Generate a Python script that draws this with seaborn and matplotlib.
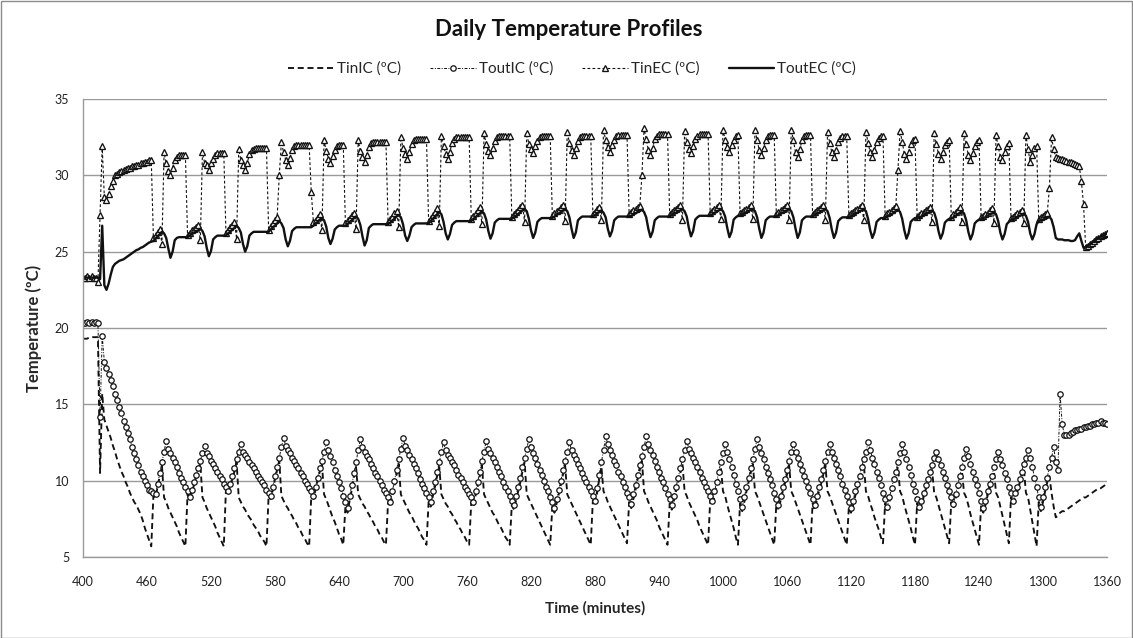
import numpy as np
import pandas as pd
import matplotlib
matplotlib.use("Agg")
import matplotlib.pyplot as plt
from matplotlib.patches import Rectangle
import seaborn as sns

# Sampling instants (minutes of the day, one reading every 2 minutes)
minutes = np.arange(400, 1361, 2)

# Inlet temperature, internal circuit (ºC)
tin_ic = [
    19.3, 19.3, 19.3, 19.4, 19.4, 19.4, 19.4, 19.4, 10.5, 15.7,   # 400
    14.0, 13.6, 13.2, 12.8, 12.3, 11.9, 11.4, 11.0, 10.6, 10.3,   # 420
    9.9, 9.6, 9.2, 8.9, 8.6, 8.4, 8.1, 7.8, 7.4, 6.9,             # 440
    6.5, 6.1, 5.7, 9.0, 8.9, 9.6, 10.3, 11.0, 8.9, 8.6,           # 460
    8.2, 7.9, 7.6, 7.3, 7.0, 6.6, 6.3, 6.0, 5.7, 9.1,             # 480
    8.7, 9.2, 9.7, 10.2, 10.6, 11.1, 8.9, 8.6, 8.2, 7.9,          # 500
    7.6, 7.3, 7.0, 6.6, 6.3, 6.0, 5.7, 9.4, 9.1, 9.6,             # 520
    10.1, 10.6, 11.2, 8.9, 8.6, 8.3, 8.1, 7.8, 7.6, 7.4,          # 540
    7.1, 6.9, 6.7, 6.4, 6.2, 6.0, 5.7, 9.0, 8.8, 9.4,             # 560
    10.1, 10.7, 11.3, 9.0, 8.7, 8.4, 8.2, 7.9, 7.7, 7.4,          # 580
    7.2, 6.9, 6.7, 6.4, 6.2, 5.9, 5.7, 9.0, 8.8, 9.4,             # 600
    10.0, 10.6, 11.1, 9.1, 8.8, 8.4, 8.0, 7.6, 7.3, 6.9,          # 620
    6.5, 6.2, 5.8, 8.3, 7.9, 8.7, 9.4, 10.2, 10.9, 9.1,           # 640
    8.8, 8.5, 8.3, 8.0, 7.8, 7.5, 7.3, 7.0, 6.8, 6.5,             # 660
    6.3, 6.0, 5.8, 8.6, 8.3, 9.0, 9.7, 10.4, 11.1, 9.1,           # 680
    8.8, 8.5, 8.2, 7.9, 7.7, 7.4, 7.1, 6.9, 6.6, 6.3,             # 700
    6.1, 5.8, 8.6, 8.3, 9.0, 9.6, 10.3, 10.9, 9.1, 8.8,           # 720
    8.5, 8.3, 8.0, 7.8, 7.5, 7.3, 7.0, 6.8, 6.5, 6.3,             # 740
    6.0, 5.8, 8.6, 8.3, 9.0, 9.6, 10.3, 11.0, 9.1, 8.8,           # 760
    8.5, 8.2, 7.9, 7.7, 7.4, 7.1, 6.9, 6.6, 6.3, 6.1,             # 780
    5.8, 8.4, 8.1, 8.7, 9.3, 9.9, 10.6, 11.2, 9.1, 8.8,           # 800
    8.5, 8.2, 7.9, 7.6, 7.3, 7.0, 6.7, 6.4, 6.1, 5.8,             # 820
    8.3, 7.9, 8.5, 9.1, 9.7, 10.4, 11.0, 9.1, 8.8, 8.5,           # 840
    8.2, 7.9, 7.6, 7.3, 7.0, 6.7, 6.4, 6.1, 5.8, 8.7,             # 860
    8.4, 9.2, 10.1, 10.9, 9.3, 9.0, 8.6, 8.3, 8.0, 7.7,           # 880
    7.4, 7.1, 6.8, 6.5, 6.2, 5.9, 8.6, 8.2, 8.8, 9.4,             # 900
    10.1, 10.7, 11.3, 9.3, 9.0, 8.6, 8.3, 8.0, 7.7, 7.4,          # 920
    7.0, 6.7, 6.4, 6.1, 5.8, 8.5, 8.1, 8.7, 9.3, 9.9,             # 940
    10.5, 11.1, 9.3, 9.0, 8.6, 8.3, 8.0, 7.7, 7.4, 7.0,           # 960
    6.7, 6.4, 6.1, 5.8, 8.7, 8.4, 9.0, 9.6, 10.3, 10.9,           # 980
    9.3, 9.0, 8.4, 7.9, 7.4, 6.9, 6.3, 5.8, 8.5, 8.0,             # 1000
    8.6, 9.3, 9.9, 10.5, 11.1, 9.3, 9.0, 8.6, 8.2, 7.8,           # 1020
    7.4, 7.0, 6.6, 6.2, 5.8, 8.5, 8.1, 8.7, 9.3, 9.8,             # 1040
    10.4, 11.0, 9.3, 9.0, 8.6, 8.2, 7.8, 7.4, 7.0, 6.6,           # 1060
    6.2, 5.8, 8.5, 8.1, 8.7, 9.3, 9.8, 10.4, 11.0, 9.3,           # 1080
    9.0, 8.6, 8.2, 7.8, 7.4, 7.0, 6.6, 6.2, 5.8, 8.3,             # 1100
    7.9, 8.4, 9.0, 9.5, 10.0, 10.6, 11.1, 9.3, 9.0, 8.5,          # 1120
    8.1, 7.6, 7.2, 6.8, 6.3, 5.9, 8.5, 8.0, 8.6, 9.2,             # 1140
    9.8, 10.3, 10.9, 9.3, 9.0, 8.4, 7.9, 7.4, 6.9, 6.3,           # 1160
    5.8, 8.5, 8.0, 8.4, 8.9, 9.4, 9.8, 10.3, 10.7, 9.2,           # 1180
    8.9, 8.4, 7.9, 7.4, 6.9, 6.4, 5.9, 8.6, 8.2, 8.8,             # 1200
    9.4, 10.0, 10.6, 9.2, 8.9, 8.4, 7.8, 7.3, 6.8, 6.3,           # 1220
    5.8, 8.4, 7.9, 8.4, 9.0, 9.5, 10.0, 10.6, 9.2, 8.9,           # 1240
    8.3, 7.7, 7.1, 6.5, 5.9, 8.9, 8.4, 8.9, 9.3, 9.8,             # 1260
    10.3, 10.8, 9.2, 8.9, 8.1, 7.3, 6.5, 5.7, 8.6, 8.0,           # 1280
    8.6, 9.3, 9.9, 10.3, 9.2, 8.3, 7.6, 7.7, 7.9, 8.0,            # 1300
    8.0, 8.1, 8.2, 8.3, 8.4, 8.5, 8.6, 8.7, 8.8, 8.9,             # 1320
    8.9, 9.0, 9.1, 9.2, 9.3, 9.4, 9.5, 9.5, 9.6, 9.7,             # 1340
    9.8,
]

# Outlet temperature, internal circuit (ºC)
tout_ic = [
    20.3, 20.3, 20.4, 20.3, 20.4, 20.3, 20.4, 20.3, 14.2, 19.5,   # 400
    17.8, 17.4, 17.0, 16.6, 16.2, 15.7, 15.3, 14.8, 14.4, 13.9,   # 420
    13.5, 13.1, 12.7, 12.2, 11.8, 11.4, 11.0, 10.6, 10.3, 10.0,   # 440
    9.7, 9.4, 9.3, 9.2, 9.1, 9.8, 10.5, 11.2, 11.9, 12.6,         # 460
    12.1, 11.8, 11.5, 11.2, 10.9, 10.5, 10.2, 9.9, 9.6, 9.3,      # 480
    8.9, 9.4, 9.9, 10.4, 10.8, 11.3, 11.8, 12.3, 11.8, 11.6,      # 500
    11.3, 11.1, 10.8, 10.6, 10.3, 10.1, 9.8, 9.6, 9.3, 9.8,       # 520
    10.3, 10.8, 11.4, 11.9, 12.4, 11.9, 11.7, 11.5, 11.2, 11.0,   # 540
    10.8, 10.6, 10.3, 10.1, 9.9, 9.7, 9.4, 9.2, 9.0, 9.6,         # 560
    10.3, 10.9, 11.5, 12.2, 12.8, 12.3, 12.0, 11.8, 11.5, 11.3,   # 580
    11.0, 10.8, 10.5, 10.3, 10.0, 9.8, 9.5, 9.3, 9.0, 9.6,        # 600
    10.2, 10.8, 11.3, 11.9, 12.5, 12.0, 11.6, 11.2, 10.7, 10.3,   # 620
    9.9, 9.5, 9.0, 8.6, 8.2, 9.0, 9.7, 10.5, 11.2, 12.0,          # 640
    12.7, 12.2, 11.9, 11.6, 11.4, 11.1, 10.8, 10.5, 10.3, 10.0,   # 660
    9.7, 9.4, 9.2, 8.9, 8.6, 9.3, 10.0, 10.7, 11.4, 12.1,         # 680
    12.8, 12.3, 12.0, 11.7, 11.4, 11.1, 10.8, 10.5, 10.1, 9.8,    # 700
    9.5, 9.2, 8.9, 8.6, 9.3, 9.9, 10.6, 11.2, 11.9, 12.5,         # 720
    12.0, 11.7, 11.5, 11.2, 11.0, 10.7, 10.4, 10.2, 9.9, 9.6,     # 740
    9.4, 9.1, 8.9, 8.6, 9.3, 9.9, 10.6, 11.3, 11.9, 12.6,         # 760
    12.1, 11.8, 11.5, 11.2, 10.9, 10.6, 10.3, 9.9, 9.6, 9.3,      # 780
    9.0, 8.7, 8.4, 9.0, 9.6, 10.2, 10.9, 11.5, 12.1, 12.7,        # 800
    12.2, 11.8, 11.5, 11.1, 10.7, 10.4, 10.0, 9.6, 9.3, 8.9,      # 820
    8.6, 8.2, 8.8, 9.4, 10.0, 10.7, 11.3, 11.9, 12.5, 12.0,       # 840
    11.7, 11.4, 11.1, 10.8, 10.5, 10.2, 9.9, 9.6, 9.3, 9.0,       # 860
    8.7, 9.5, 10.4, 11.2, 12.0, 12.9, 12.4, 12.0, 11.7, 11.3,     # 880
    11.0, 10.6, 10.3, 9.9, 9.6, 9.2, 8.9, 8.5, 9.1, 9.7,          # 900
    10.4, 11.0, 11.6, 12.2, 12.9, 12.4, 12.0, 11.7, 11.3, 10.9,   # 920
    10.6, 10.2, 9.9, 9.5, 9.1, 8.8, 8.4, 9.0, 9.6, 10.2,          # 940
    10.8, 11.4, 12.0, 12.6, 12.1, 11.8, 11.5, 11.2, 10.9, 10.6,   # 960
    10.2, 9.9, 9.6, 9.3, 9.0, 8.7, 9.3, 9.9, 10.6, 11.2,          # 980
    11.8, 12.4, 11.9, 11.4, 10.9, 10.4, 9.8, 9.3, 8.8, 8.3,       # 1000
    8.9, 9.6, 10.2, 10.8, 11.4, 12.1, 12.7, 12.2, 11.8, 11.4,     # 1020
    10.9, 10.5, 10.1, 9.7, 9.2, 8.8, 8.4, 9.0, 9.6, 10.1,         # 1040
    10.7, 11.3, 11.9, 12.4, 11.9, 11.5, 11.1, 10.7, 10.3, 10.0,   # 1060
    9.6, 9.2, 8.8, 8.4, 9.0, 9.6, 10.1, 10.7, 11.3, 11.9,         # 1080
    12.4, 11.9, 11.5, 11.1, 10.7, 10.3, 9.8, 9.4, 9.0, 8.6,       # 1100
    8.2, 8.7, 9.3, 9.8, 10.3, 10.9, 11.4, 11.9, 12.5, 12.0,       # 1120
    11.5, 11.1, 10.6, 10.2, 9.7, 9.2, 8.8, 8.3, 8.9, 9.5,         # 1140
    10.1, 10.6, 11.2, 11.8, 12.4, 11.9, 11.4, 10.9, 10.4, 9.8,    # 1160
    9.3, 8.8, 8.3, 8.7, 9.2, 9.7, 10.1, 10.6, 11.0, 11.5,         # 1180
    11.9, 11.4, 11.0, 10.6, 10.2, 9.7, 9.3, 8.9, 8.5, 9.1,        # 1200
    9.7, 10.3, 10.9, 11.5, 12.1, 11.6, 11.1, 10.6, 10.1, 9.7,     # 1220
    9.2, 8.7, 8.2, 8.7, 9.3, 9.8, 10.3, 10.9, 11.4, 11.9,         # 1240
    11.4, 11.0, 10.5, 10.1, 9.6, 9.2, 8.7, 9.2, 9.6, 10.1,        # 1260
    10.6, 11.1, 11.5, 12.0, 11.5, 10.9, 10.2, 9.6, 8.9, 8.3,      # 1280
    8.9, 9.6, 10.2, 10.9, 11.5, 12.2, 11.2, 10.7, 15.7, 13.7,     # 1300
    13.0, 13.0, 13.0, 13.1, 13.2, 13.3, 13.3, 13.4, 13.4, 13.5,   # 1320
    13.5, 13.6, 13.6, 13.7, 13.7, 13.8, 13.8, 13.9, 13.8, 13.8,   # 1340
    13.7,
]

# Inlet temperature, external circuit (ºC)
tin_ec = [
    23.3, 23.3, 23.4, 23.3, 23.4, 23.3, 23.3, 23.0, 27.4, 31.9,            # 400
    28.6, 28.4, 28.8, 29.3, 29.6, 30.0, 30.1, 30.2, 30.3, 30.35,           # 420
    30.4, 30.5, 30.5, 30.6, 30.6, 30.7, 30.7, 30.8, 30.8, 30.9,            # 440
    30.9, 31.0, 31.0, 25.9, 26.1, 26.3, 26.5, 25.5, 31.5, 30.8,            # 460
    30.3, 30.0, 30.5, 31.0, 31.2, 31.3, 31.3, 31.3, 31.3, 26.1,            # 480
    26.2, 26.4, 26.5, 26.6, 26.75, 25.75, 31.5, 30.8, 30.65, 30.35,        # 500
    30.8, 31.1, 31.35, 31.45, 31.45, 31.45, 31.45, 26.2, 26.4, 26.6,       # 520
    26.75, 26.95, 25.85, 31.7, 31.0, 30.65, 30.35, 30.8, 31.4, 31.65,      # 540
    31.75, 31.8, 31.8, 31.8, 31.8, 31.8, 31.8, 26.45, 26.65, 26.85,        # 560
    27.05, 27.25, 30.0, 32.2, 31.5, 31.0, 30.7, 31.15, 31.65, 31.9,        # 580
    32.0, 32.0, 32.0, 32.0, 32.0, 32.0, 32.0, 28.9, 26.95, 27.1,           # 600
    27.3, 27.45, 26.4, 32.3, 31.6, 31.1, 30.8, 31.25, 31.65, 31.9,         # 620
    32.0, 32.0, 32.0, 26.85, 27.05, 27.2, 27.4, 27.55, 26.5, 32.3,         # 640
    31.6, 31.2, 30.9, 31.35, 31.85, 32.1, 32.2, 32.2, 32.2, 32.2,          # 660
    32.2, 32.2, 32.2, 26.95, 27.15, 27.3, 27.5, 27.65, 26.6, 32.5,         # 680
    31.8, 31.4, 31.1, 31.55, 32.05, 32.3, 32.4, 32.4, 32.4, 32.4,          # 700
    32.4, 32.4, 27.0, 27.2, 27.4, 27.6, 27.85, 26.65, 32.6, 31.9,          # 720
    31.4, 31.1, 31.55, 32.15, 32.4, 32.5, 32.5, 32.5, 32.5, 32.5,          # 740
    32.5, 32.5, 27.15, 27.35, 27.5, 27.7, 27.9, 26.8, 32.75, 32.05,        # 760
    31.6, 31.3, 31.8, 32.25, 32.5, 32.6, 32.6, 32.6, 32.6, 32.6,           # 780
    32.6, 27.3, 27.45, 27.6, 27.75, 27.9, 28.05, 26.95, 32.75, 32.05,      # 800
    31.75, 31.45, 31.9, 32.25, 32.5, 32.6, 32.6, 32.6, 32.6, 32.6,         # 820
    27.35, 27.5, 27.65, 27.75, 27.9, 28.05, 27.0, 32.85, 32.15, 31.65,     # 840
    31.35, 31.8, 32.25, 32.5, 32.6, 32.6, 32.6, 32.6, 32.6, 27.45,         # 860
    27.6, 27.8, 27.95, 27.1, 33.0, 32.3, 31.85, 31.55, 32.0, 32.3,         # 880
    32.55, 32.65, 32.65, 32.65, 32.65, 32.65, 27.45, 27.6, 27.7, 27.8,     # 900
    27.9, 28.0, 30.0, 33.1, 32.4, 31.65, 31.35, 31.8, 32.35, 32.6,         # 920
    32.7, 32.7, 32.7, 32.7, 32.7, 27.45, 27.6, 27.7, 27.8, 27.9,           # 940
    28.05, 27.1, 32.9, 32.2, 31.75, 31.45, 31.9, 32.35, 32.6, 32.7,        # 960
    32.7, 32.7, 32.7, 32.7, 27.5, 27.65, 27.8, 27.9, 28.05, 27.15,         # 980
    33.0, 32.3, 31.85, 31.55, 32.0, 32.3, 32.55, 32.65, 27.5, 27.6,        # 1000
    27.7, 27.8, 27.9, 28.05, 27.15, 33.0, 32.3, 31.65, 31.35, 31.8,        # 1020
    32.3, 32.55, 32.65, 32.65, 32.65, 27.45, 27.6, 27.7, 27.8, 27.9,       # 1040
    28.05, 27.1, 33.0, 32.3, 31.5, 31.2, 31.7, 32.3, 32.55, 32.65,         # 1060
    32.65, 32.65, 27.45, 27.6, 27.7, 27.8, 27.9, 28.05, 27.1, 32.85,       # 1080
    32.15, 31.5, 31.2, 31.65, 32.2, 32.45, 32.55, 32.55, 32.55, 27.4,      # 1100
    27.5, 27.6, 27.7, 27.8, 27.9, 28.05, 27.05, 32.85, 32.15, 31.5,        # 1120
    31.2, 31.65, 32.2, 32.45, 32.55, 32.55, 27.35, 27.5, 27.6, 27.7,       # 1140
    27.85, 28.0, 30.35, 32.9, 32.2, 31.4, 31.1, 31.55, 32.05, 32.3,        # 1160
    32.4, 27.3, 27.4, 27.5, 27.6, 27.7, 27.8, 27.95, 26.95, 32.75,         # 1180
    32.05, 31.4, 31.1, 31.55, 32.0, 32.2, 32.3, 27.3, 27.45, 27.6,         # 1200
    27.75, 27.9, 26.95, 32.75, 32.05, 31.3, 31.0, 31.45, 31.95, 32.2,      # 1220
    32.3, 27.25, 27.35, 27.45, 27.55, 27.7, 27.85, 26.9, 32.65, 31.9,      # 1240
    31.2, 31.0, 31.5, 31.9, 32.1, 27.2, 27.3, 27.4, 27.5, 27.6,            # 1260
    27.75, 26.85, 32.65, 31.7, 30.9, 31.3, 31.8, 31.95, 27.15, 27.25,      # 1280
    27.35, 27.45, 27.55, 29.15, 32.5, 31.7, 31.2, 31.15, 31.1, 31.05,      # 1300
    31.0, 30.95, 30.9, 30.85, 30.8, 30.75, 30.7, 30.6, 29.6, 28.1,         # 1320
    25.3, 25.4, 25.5, 25.6, 25.7, 25.8, 25.9, 26.0, 26.1, 26.15,           # 1340
    26.2,
]

# Outlet temperature, external circuit (ºC)
tout_ec = [
    23.3, 23.3, 23.3, 23.3, 23.3, 23.3, 23.3, 23.3, 23.2, 26.7,            # 400
    22.8, 22.5, 22.9, 23.5, 24.0, 24.2, 24.3, 24.4, 24.45, 24.5,           # 420
    24.6, 24.7, 24.8, 24.9, 25.0, 25.1, 25.15, 25.25, 25.3, 25.4,          # 440
    25.5, 25.6, 25.65, 25.7, 25.85, 26.0, 26.15, 26.3, 26.2, 25.9,         # 460
    25.2, 24.6, 25.0, 25.75, 25.9, 25.95, 25.95, 25.95, 25.95, 25.95,      # 480
    26.05, 26.15, 26.25, 26.3, 26.4, 26.5, 26.35, 26.0, 25.25, 24.7,       # 500
    25.05, 25.8, 25.95, 26.05, 26.05, 26.05, 26.05, 26.05, 26.2, 26.3,     # 520
    26.45, 26.55, 26.7, 26.55, 26.25, 25.5, 25.0, 25.35, 26.05, 26.2,      # 540
    26.3, 26.3, 26.3, 26.3, 26.3, 26.3, 26.3, 26.3, 26.45, 26.6,           # 560
    26.7, 26.85, 27.0, 26.85, 26.55, 25.8, 25.35, 25.7, 26.35, 26.5,       # 580
    26.6, 26.6, 26.6, 26.6, 26.6, 26.6, 26.6, 26.6, 26.7, 26.85,           # 600
    26.95, 27.1, 27.2, 27.05, 26.65, 25.9, 25.5, 25.85, 26.45, 26.6,       # 620
    26.7, 26.7, 26.7, 26.7, 26.8, 26.95, 27.05, 27.2, 27.3, 27.15,         # 640
    26.75, 26.0, 25.4, 25.75, 26.55, 26.7, 26.8, 26.8, 26.8, 26.8,         # 660
    26.8, 26.8, 26.8, 26.8, 26.9, 27.05, 27.15, 27.3, 27.4, 27.25,         # 680
    26.8, 26.05, 25.7, 26.05, 26.6, 26.75, 26.85, 26.85, 26.85, 26.85,     # 700
    26.85, 26.85, 26.85, 27.0, 27.15, 27.3, 27.45, 27.6, 27.45, 26.95,     # 720
    26.2, 25.8, 26.15, 26.75, 26.9, 27.0, 27.0, 27.0, 27.0, 27.0,          # 740
    27.0, 27.0, 27.0, 27.15, 27.25, 27.4, 27.5, 27.65, 27.5, 27.1,         # 760
    26.35, 25.85, 26.2, 26.9, 27.05, 27.15, 27.15, 27.15, 27.15, 27.15,    # 780
    27.15, 27.15, 27.25, 27.35, 27.45, 27.6, 27.7, 27.8, 27.65, 27.15,     # 800
    26.4, 25.9, 26.25, 26.95, 27.1, 27.2, 27.2, 27.2, 27.2, 27.2,          # 820
    27.2, 27.3, 27.4, 27.5, 27.6, 27.7, 27.8, 27.65, 27.25, 26.5,          # 840
    25.9, 26.25, 27.05, 27.2, 27.3, 27.3, 27.3, 27.3, 27.3, 27.3,          # 860
    27.4, 27.5, 27.6, 27.7, 27.55, 27.25, 26.5, 26.0, 26.35, 27.05,        # 880
    27.2, 27.3, 27.3, 27.3, 27.3, 27.3, 27.3, 27.35, 27.45, 27.5,          # 900
    27.6, 27.65, 27.75, 27.6, 27.25, 26.5, 25.95, 26.3, 27.05, 27.2,       # 920
    27.3, 27.3, 27.3, 27.3, 27.3, 27.3, 27.4, 27.5, 27.55, 27.65,          # 940
    27.7, 27.8, 27.65, 27.3, 26.55, 26.0, 26.35, 27.1, 27.25, 27.35,       # 960
    27.35, 27.35, 27.35, 27.35, 27.35, 27.45, 27.55, 27.6, 27.7, 27.8,     # 980
    27.65, 27.3, 26.55, 25.95, 26.3, 27.1, 27.25, 27.35, 27.35, 27.45,     # 1000
    27.5, 27.6, 27.65, 27.75, 27.8, 27.65, 27.25, 26.5, 25.9, 26.25,       # 1020
    27.05, 27.2, 27.3, 27.3, 27.3, 27.3, 27.4, 27.5, 27.55, 27.65,         # 1040
    27.7, 27.8, 27.65, 27.25, 26.5, 25.9, 26.25, 27.05, 27.2, 27.3,        # 1060
    27.3, 27.3, 27.3, 27.4, 27.5, 27.55, 27.65, 27.7, 27.8, 27.65,         # 1080
    27.2, 26.45, 25.9, 26.25, 27.0, 27.15, 27.25, 27.25, 27.25, 27.25,     # 1100
    27.3, 27.4, 27.5, 27.55, 27.65, 27.7, 27.8, 27.65, 27.15, 26.4,        # 1120
    25.9, 26.25, 26.95, 27.1, 27.2, 27.2, 27.2, 27.3, 27.4, 27.45,         # 1140
    27.55, 27.65, 27.75, 27.6, 27.15, 26.4, 25.85, 26.2, 26.95, 27.1,      # 1160
    27.2, 27.15, 27.25, 27.3, 27.4, 27.45, 27.55, 27.6, 27.7, 27.55,       # 1180
    27.1, 26.35, 25.85, 26.2, 26.9, 27.05, 27.15, 27.15, 27.25, 27.35,     # 1200
    27.45, 27.55, 27.65, 27.5, 27.05, 26.3, 25.8, 26.15, 26.85, 27.0,      # 1220
    27.1, 27.1, 27.2, 27.25, 27.35, 27.45, 27.5, 27.6, 27.45, 27.0,        # 1240
    26.25, 25.8, 26.15, 26.8, 26.95, 27.05, 27.1, 27.2, 27.25, 27.35,      # 1260
    27.4, 27.5, 27.35, 26.95, 26.2, 25.8, 26.15, 26.8, 27.0, 27.05,        # 1280
    27.1, 27.15, 27.2, 27.3, 27.1, 26.6, 25.9, 25.8, 25.8, 25.8,           # 1300
    25.75, 25.75, 25.75, 25.7, 25.7, 25.75, 26.0, 26.2, 25.7, 25.25,       # 1320
    25.3, 25.4, 25.5, 25.6, 25.7, 25.8, 25.9, 26.0, 26.05, 26.1,           # 1340
    26.2,
]

x_ticks = list(range(400, 1361, 60))
y_ticks = [5, 10, 15, 20, 25, 30, 35]

df = pd.DataFrame({
    "minute": minutes,
    "TinIC": tin_ic,
    "ToutIC": tout_ic,
    "TinEC": tin_ec,
    "ToutEC": tout_ec,
})

sns.set_theme(style="white")
plt.rcParams["font.family"] = ["Lato", "DejaVu Sans"]

W, H = 1133, 638
fig = plt.figure(figsize=(W / 100, H / 100), dpi=100)
left, right, top, bottom = 83, 1107, 99, 557
ax = fig.add_axes([left / W, 1 - bottom / H, (right - left) / W, (bottom - top) / H])

ink = "#111111"
sns.lineplot(data=df, x="minute", y="TinIC", ax=ax, color=ink,
             linestyle=(0, (3.2, 2.0)), linewidth=1.35, label="TinIC (ºC)")
sns.lineplot(data=df, x="minute", y="ToutIC", ax=ax, color=ink,
             linestyle=(0, (3, 1.5, 1, 1.5)), linewidth=0.7,
             marker="o", markersize=3.9, markerfacecolor="white",
             markeredgecolor=ink, markeredgewidth=0.9, label="ToutIC (ºC)")
sns.lineplot(data=df, x="minute", y="TinEC", ax=ax, color=ink,
             linestyle=(0, (2.5, 2.0)), linewidth=0.8,
             marker="^", markersize=4.9, markerfacecolor="white",
             markeredgecolor=ink, markeredgewidth=0.95, label="TinEC (ºC)")
sns.lineplot(data=df, x="minute", y="ToutEC", ax=ax, color=ink,
             linestyle="-", linewidth=1.7, label="ToutEC (ºC)")

ax.set_xlim(400, 1360)
ax.set_ylim(5, 35)
ax.set_xticks(x_ticks)
ax.set_yticks(y_ticks)
ax.yaxis.grid(True, color="#9a9a9a", linewidth=1.0)
ax.xaxis.grid(False)
ax.set_axisbelow(True)
for side in ("top", "right"):
    ax.spines[side].set_visible(False)
for side in ("left", "bottom"):
    ax.spines[side].set_color("#9a9a9a")
    ax.spines[side].set_linewidth(1.0)
ax.tick_params(axis="both", length=0, labelsize=9, colors="#222222")
ax.tick_params(axis="x", pad=14)
ax.tick_params(axis="y", pad=10)

ax.set_xlabel("Time (minutes)", fontsize=11, fontweight="bold", labelpad=9)
ax.set_ylabel("Temperature (ºC)", fontsize=12, fontweight="bold", labelpad=9)

handles, labels = ax.get_legend_handles_labels()
ax.get_legend().remove()
fig.legend(handles, labels, loc="center", bbox_to_anchor=(572 / W, 1 - 69 / H),
           ncol=4, frameon=False, fontsize=11, handlelength=3.0,
           handletextpad=0.2, columnspacing=1.9, numpoints=1)

fig.text(569 / W, 1 - 30 / H, "Daily Temperature Profiles", ha="center",
         va="center", fontsize=16, fontweight="bold", color="#111111")

fig.patches.append(Rectangle((0.5 / W, 0.5 / H), 1 - 1.5 / W, 1 - 1.5 / H,
                             transform=fig.transFigure, fill=False,
                             edgecolor="#8c8c8c", linewidth=1.0))

assert len(tin_ic) == len(tout_ic) == len(tin_ec) == len(tout_ec) == len(minutes)
fig.savefig("out.png", dpi=100)
